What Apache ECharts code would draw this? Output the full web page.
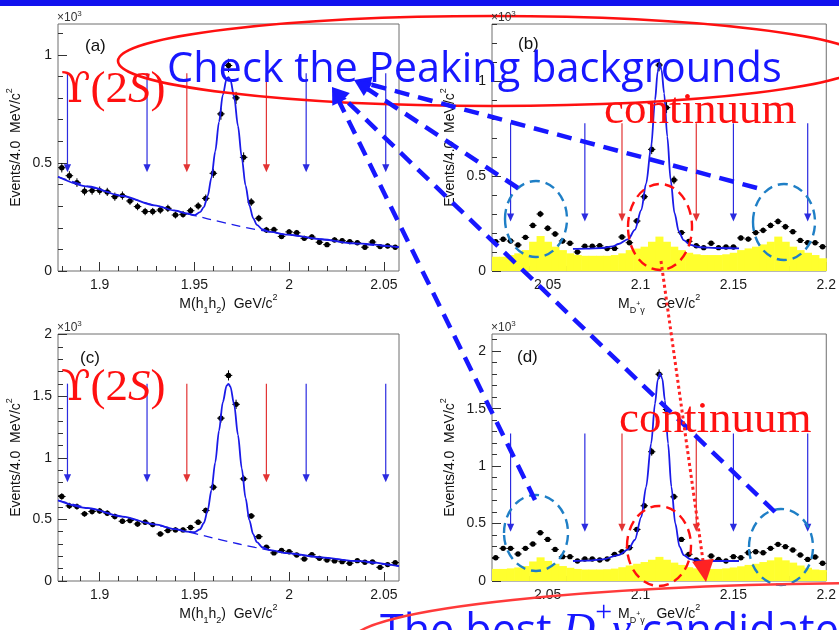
<!DOCTYPE html>
<html>
<head>
<meta charset="utf-8">
<script src="https://cdn.jsdelivr.net/npm/echarts@6/dist/echarts.min.js"></script>
<style>
  html, body { margin: 0; padding: 0; background: #fff; }
  #chart { width: 839px; height: 630px; }
</style>
</head>
<body>
<div id="chart"></div>
<script>
// ---- bin centres (4 MeV bins) ----
const massAC = [1.880,1.884,1.888,1.892,1.896,1.900,1.904,1.908,1.912,1.916,1.920,1.924,1.928,1.932,1.936,1.940,1.944,1.948,1.952,1.956,1.960,1.964,1.968,1.972,1.976,1.980,1.984,1.988,1.992,1.996,2.000,2.004,2.008,2.012,2.016,2.020,2.024,2.028,2.032,2.036,2.040,2.044,2.048,2.052,2.056];
const massBD = [2.022,2.026,2.030,2.034,2.038,2.042,2.046,2.050,2.054,2.058,2.062,2.066,2.070,2.074,2.078,2.082,2.086,2.090,2.094,2.098,2.102,2.106,2.110,2.114,2.118,2.122,2.126,2.130,2.134,2.138,2.142,2.146,2.150,2.154,2.158,2.162,2.166,2.170,2.174,2.178,2.182,2.186,2.190,2.194,2.198];

// ---- events per bin and their errors ----
const eventsA = [478,441,409,369,372,372,366,344,349,324,298,275,275,282,290,259,262,279,301,336,452,727,951,801,526,319,244,190,191,160,181,177,151,157,133,122,144,140,136,131,110,134,113,116,110];
const errA    = [22,21,20,19,19,19,19,19,19,18,17,17,17,17,17,16,16,17,17,18,21,27,31,28,23,18,16,14,14,13,13,13,12,13,12,11,12,12,12,11,10,12,11,11,10];
const eventsB = [154,167,158,137,177,240,300,225,195,158,146,100,130,130,133,118,119,179,149,263,391,640,1084,860,479,202,156,133,123,146,123,126,126,174,168,202,214,240,261,233,207,161,149,149,128];
const errB    = [12,13,13,12,13,15,17,15,14,13,12,10,11,11,12,11,11,13,12,16,20,25,33,29,22,14,12,12,11,12,11,11,11,13,13,14,15,15,16,15,14,13,12,12,11];
const eventsC = [686,610,604,545,564,569,550,523,485,491,463,477,458,382,409,415,415,434,477,572,762,1322,1669,1434,829,528,360,274,228,247,238,211,179,214,184,171,163,157,144,165,152,154,111,133,149];
const errC    = [26,25,25,23,24,24,23,23,22,22,22,22,21,20,20,20,20,21,22,24,28,36,41,38,29,23,19,17,15,16,15,15,13,15,14,13,13,13,12,13,12,12,11,12,12];
const eventsD = [203,284,284,235,284,322,420,362,275,212,212,174,191,191,183,191,232,255,290,449,655,1125,1800,1493,733,362,232,183,154,217,188,174,212,203,246,255,246,284,319,299,270,226,188,209,154];
const errD    = [14,17,17,15,17,18,20,19,17,15,15,13,14,14,14,14,15,16,17,21,26,34,42,39,27,19,15,14,12,15,14,13,15,14,16,16,16,17,18,17,16,15,14,14,12];

// ---- continuum (filled histogram) ----
const contB = [75,75,84,93,110,154,184,154,128,110,93,84,80,80,80,80,84,93,110,118,128,154,181,154,128,110,96,88,84,84,84,88,96,110,119,128,140,154,181,154,128,110,96,84,67];
const contD = [105,105,110,118,130,170,206,175,150,130,115,105,100,100,100,102,108,120,135,150,165,185,210,185,160,140,120,110,105,105,105,110,118,128,140,150,165,180,206,180,160,135,115,100,95];

// ---- fitted curves [mass, events] ----
const fitA = [[1.878,436],[1.894,391],[1.912,347],[1.929,304],[1.940,279],[1.946,266],[1.950,258],[1.953,272],[1.955,296],[1.957,347],[1.959,432],[1.961,553],[1.963,690],[1.965,815],[1.967,889],[1.968,897],[1.969,885],[1.971,804],[1.973,671],[1.975,525],[1.977,396],[1.979,304],[1.981,245],[1.983,213],[1.986,192],[1.990,181],[1.999,168],[2.017,147],[2.034,128],[2.058,110]];
const bgA  = [[1.878,436],[1.894,391],[1.912,347],[1.929,304],[1.950,257],[1.964,227],[1.982,193],[1.999,168],[2.017,147],[2.034,128],[2.058,110]];
const fitC = [[1.878,655],[1.894,592],[1.912,523],[1.929,459],[1.940,421],[1.946,401],[1.950,396],[1.953,420],[1.955,471],[1.957,571],[1.959,737],[1.961,963],[1.963,1221],[1.965,1451],[1.967,1585],[1.968,1600],[1.969,1578],[1.971,1430],[1.973,1186],[1.975,915],[1.977,674],[1.979,494],[1.981,380],[1.983,315],[1.986,272],[1.990,251],[1.999,226],[2.017,192],[2.034,163],[2.058,121]];
const bgC  = [[1.878,655],[1.894,592],[1.912,523],[1.929,459],[1.950,386],[1.964,334],[1.982,273],[1.999,226],[2.017,192],[2.034,163],[2.058,121]];
const fitB = [[2.0636,116],[2.0706,118],[2.0794,121],[2.0850,130],[2.0881,142],[2.0934,168],[2.0969,216],[2.1004,321],[2.1030,461],[2.1057,654],[2.1078,900],[2.1092,1049],[2.1102,1093],[2.1113,1058],[2.1127,935],[2.1144,707],[2.1162,479],[2.1183,304],[2.1206,207],[2.1232,163],[2.1267,137],[2.1320,125],[2.1407,121],[2.1530,119]];
const fitD = [[2.0636,174],[2.0706,177],[2.0794,188],[2.0881,226],[2.0934,275],[2.0969,357],[2.1004,559],[2.1030,820],[2.1057,1197],[2.1078,1545],[2.1092,1748],[2.1104,1806],[2.1117,1762],[2.1131,1574],[2.1148,1197],[2.1166,820],[2.1187,501],[2.1210,299],[2.1232,226],[2.1267,191],[2.1320,177],[2.1407,174],[2.1530,174]];

// ---- signal-window / sideband markers ----
const windowsAC = [1.883,1.925,1.946,1.988,2.009,2.051];
const windowsBD = [2.030,2.070,2.090,2.130,2.150,2.190];
const windowKind = [0,0,1,1,0,0];           // 0 = sideband, 1 = signal window
const markerA = [915,457], markerB = [777,260], markerC = [1602,802], markerD = [1284,429];

// ---- tick labels ----
const xTicksAC = [1.9,1.95,2,2.05];
const xTicksBD = [2.05,2.1,2.15,2.2];
const yTicksAB = [0,500,1000];
const yTicksCD = [0,500,1000,1500,2000];

const HALF_BIN = 0.002;
const AX_FONT = '"Liberation Sans", Arial, sans-serif';
const FIT_BLUE = '#1a1ae8';
const MARK_BLUE = '#2b2be0', MARK_RED = '#e23434';

function steps(a, b, s) {
  const out = [];
  for (let v = a; v <= b + s / 1e3; v += s) out.push(Math.round(v * 1e4) / 1e4);
  return out;
}

const richName = {
  sup: { fontSize: 9, verticalAlign: 'top', lineHeight: 22, fontFamily: AX_FONT, color: '#111' },
  sub: { fontSize: 9, verticalAlign: 'bottom', lineHeight: 22, fontFamily: AX_FONT, color: '#111' },
  sm:  { fontSize: 7, verticalAlign: 'middle', lineHeight: 22, fontFamily: AX_FONT, color: '#111' }
};

const panels = [
  { rect: { left: 58, top: 24, width: 341, height: 247 }, mass: massAC, ev: eventsA, err: errA, fit: fitA, bg: bgA, cont: null,
    xr: [1.878, 2.058], yMax: 1143, xMajor: xTicksAC, xMinor: steps(1.88, 2.05, 0.01), yMajor: yTicksAB, yMinor: steps(0, 1100, 100),
    win: windowsAC, mk: markerA, xName: 'M(h{sub|1}h{sub|2})  GeV/c{sup|2}' },
  { rect: { left: 492, top: 24, width: 342, height: 247 }, mass: massBD, ev: eventsB, err: errB, fit: fitB, bg: null, cont: contB,
    xr: [2.02, 2.20], yMax: 1300, xMajor: xTicksBD, xMinor: steps(2.03, 2.2, 0.01), yMajor: yTicksAB, yMinor: steps(0, 1300, 100),
    win: windowsBD, mk: markerB, xName: 'M{sub|D}{sm|+}{sub|γ}   GeV/c{sup|2}' },
  { rect: { left: 58, top: 334, width: 341, height: 247 }, mass: massAC, ev: eventsC, err: errC, fit: fitC, bg: bgC, cont: null,
    xr: [1.878, 2.058], yMax: 2005, xMajor: xTicksAC, xMinor: steps(1.88, 2.05, 0.01), yMajor: yTicksCD, yMinor: steps(0, 2000, 100),
    win: windowsAC, mk: markerC, xName: 'M(h{sub|1}h{sub|2})  GeV/c{sup|2}' },
  { rect: { left: 492, top: 334, width: 342, height: 247 }, mass: massBD, ev: eventsD, err: errD, fit: fitD, bg: null, cont: contD,
    xr: [2.02, 2.20], yMax: 2150, xMajor: xTicksBD, xMinor: steps(2.03, 2.2, 0.01), yMajor: yTicksCD, yMinor: steps(0, 2100, 100),
    win: windowsBD, mk: markerD, xName: 'M{sub|D}{sm|+}{sub|γ}   GeV/c{sup|2}' }
];

const grid = [], xAxis = [], yAxis = [], series = [];

panels.forEach((p, g) => {
  grid.push(Object.assign({ show: true, borderColor: '#6e6e6e', borderWidth: 1, backgroundColor: 'transparent' }, p.rect));
  const xi = xAxis.length, yi = yAxis.length;
  xAxis.push({
    type: 'value', gridIndex: g, min: p.xr[0], max: p.xr[1], position: 'bottom',
    axisLine: { show: false }, splitLine: { show: false },
    axisTick: { inside: true, length: 9, customValues: p.xMajor, lineStyle: { color: '#333' } },
    axisLabel: { customValues: p.xMajor, formatter: v => String(v), fontFamily: AX_FONT, fontSize: 14, color: '#1a1a1a', margin: 7 },
    name: p.xName, nameLocation: 'middle', nameGap: 22,
    nameTextStyle: { fontFamily: AX_FONT, fontSize: 14, color: '#111', lineHeight: 22, rich: richName }
  });
  xAxis.push({
    type: 'value', gridIndex: g, min: p.xr[0], max: p.xr[1], position: 'bottom',
    axisLine: { show: false }, splitLine: { show: false }, axisLabel: { show: false },
    axisTick: { inside: true, length: 5, customValues: p.xMinor, lineStyle: { color: '#333' } }
  });
  yAxis.push({
    type: 'value', gridIndex: g, min: 0, max: p.yMax, position: 'left',
    axisLine: { show: false }, splitLine: { show: false },
    axisTick: { inside: true, length: 9, customValues: p.yMajor, lineStyle: { color: '#333' } },
    axisLabel: { customValues: p.yMajor, formatter: v => String(v / 1000), fontFamily: AX_FONT, fontSize: 14, color: '#1a1a1a', margin: 6 },
    name: 'Events/4.0  MeV/c{sup|2}', nameLocation: 'middle', nameGap: 31,
    nameTextStyle: { fontFamily: AX_FONT, fontSize: 14, color: '#111', lineHeight: 22, rich: richName }
  });
  yAxis.push({
    type: 'value', gridIndex: g, min: 0, max: p.yMax, position: 'left',
    axisLine: { show: false }, splitLine: { show: false }, axisLabel: { show: false },
    axisTick: { inside: true, length: 5, customValues: p.yMinor, lineStyle: { color: '#333' } }
  });

  if (p.cont) {
    series.push({
      type: 'custom', xAxisIndex: xi, yAxisIndex: yi, z: 1, silent: true,
      data: p.mass.map((m, i) => [m, p.cont[i]]),
      encode: { x: 0, y: 1 },
      renderItem: (params, api) => {
        const x = api.value(0), h = api.value(1);
        const a = api.coord([x - HALF_BIN, h]), b = api.coord([x + HALF_BIN, 0]);
        return { type: 'rect', shape: { x: a[0], y: a[1], width: b[0] - a[0] + 0.6, height: b[1] - a[1] },
                 style: { fill: '#ffff2e' } };
      }
    });
  }

  series.push({
    type: 'custom', xAxisIndex: xi, yAxisIndex: yi, z: 3, silent: true,
    data: p.mass.map((m, i) => [m, p.ev[i], p.err[i]]),
    encode: { x: 0, y: 1 },
    renderItem: (params, api) => {
      const x = api.value(0), y = api.value(1), e = api.value(2);
      const c = api.coord([x, y]);
      const l = api.coord([x - HALF_BIN, y]), r = api.coord([x + HALF_BIN, y]);
      const t = api.coord([x, y + e]), b = api.coord([x, y - e]);
      return { type: 'group', children: [
        { type: 'line', shape: { x1: l[0], y1: c[1], x2: r[0], y2: c[1] }, style: { stroke: '#000', lineWidth: 1 } },
        { type: 'line', shape: { x1: c[0], y1: t[1], x2: c[0], y2: b[1] }, style: { stroke: '#000', lineWidth: 1 } },
        { type: 'circle', shape: { cx: c[0], cy: c[1], r: 2.7 }, style: { fill: '#000' } }
      ] };
    }
  });

  if (p.bg) {
    series.push({
      type: 'line', xAxisIndex: xi, yAxisIndex: yi, z: 4, data: p.bg, showSymbol: false, smooth: 0.4,
      lineStyle: { color: FIT_BLUE, width: 1.3, type: [9, 6] }, silent: true
    });
  }
  series.push({
    type: 'line', xAxisIndex: xi, yAxisIndex: yi, z: 5, data: p.fit, showSymbol: false, smooth: 0.3, smoothMonotone: 'x',
    lineStyle: { color: FIT_BLUE, width: 1.8 }, silent: true
  });

  series.push({
    type: 'custom', xAxisIndex: xi, yAxisIndex: yi, z: 6, silent: true,
    data: p.win.map((w, i) => [w, p.mk[0], p.mk[1], windowKind[i]]),
    encode: { x: 0, y: 1 },
    renderItem: (params, api) => {
      const x = api.value(0), col = api.value(3) ? MARK_RED : MARK_BLUE;
      const a = api.coord([x, api.value(1)]), b = api.coord([x, api.value(2)]);
      return { type: 'group', children: [
        { type: 'line', shape: { x1: a[0], y1: a[1], x2: b[0], y2: b[1] - 6 }, style: { stroke: col, lineWidth: 1.2 } },
        { type: 'polygon', shape: { points: [[b[0] - 3.6, b[1] - 8], [b[0] + 3.6, b[1] - 8], [b[0], b[1]]] }, style: { fill: col } }
      ] };
    }
  });
});

// ---- slide annotations drawn over the plots ----
const ANN_BLUE = '#1717ff', ANN_RED = '#ff1010', RING_BLUE = '#1f7fc6';

function arrowLine(x1, y1, x2, y2, color, width, dash, headLen, headHalf) {
  const dx = x2 - x1, dy = y2 - y1, len = Math.hypot(dx, dy);
  const ux = dx / len, uy = dy / len;
  const bx = x2 - ux * headLen, by = y2 - uy * headLen;
  return [
    { type: 'line', shape: { x1, y1, x2: bx, y2: by }, style: { stroke: color, lineWidth: width, lineDash: dash }, z: 100 },
    { type: 'polygon', shape: { points: [[x2, y2], [bx - uy * headHalf, by + ux * headHalf], [bx + uy * headHalf, by - ux * headHalf]] },
      style: { fill: color }, z: 101 }
  ];
}
function ring(cx, cy, rx, ry, color) {
  return { type: 'ellipse', shape: { cx, cy, rx, ry }, style: { fill: null, stroke: color, lineWidth: 2.4, lineDash: [10, 6] }, z: 99 };
}
function label(text, x, y, font, fill, rich, z) {
  return { type: 'text', x, y, z: z || 102, style: { text, font, fill, rich, align: 'left', verticalAlign: 'top' } };
}

const tagFont = '17px "Liberation Sans", Arial, sans-serif';
const expRich = { s: { fontSize: 8, verticalAlign: 'top', lineHeight: 16, fill: '#333', fontFamily: AX_FONT } };
const serifRed = '45px "Liberation Serif", "Times New Roman", serif';
const upsRich = {
  u: { font: '43px "DejaVu Serif", serif', fill: ANN_RED },
  t: { font: '45px "Liberation Serif", serif', fill: ANN_RED },
  i: { font: 'italic 45px "Liberation Serif", serif', fill: ANN_RED }
};

const graphic = [
  { type: 'rect', shape: { x: 0, y: 0, width: 839, height: 6 }, style: { fill: '#1111ee' }, z: 100 },
  // exponent and panel tags
  label('×10{s|3}', 57, 10, '12px "Liberation Sans", sans-serif', '#333', expRich),
  label('×10{s|3}', 491, 10, '12px "Liberation Sans", sans-serif', '#333', expRich),
  label('×10{s|3}', 57, 320, '12px "Liberation Sans", sans-serif', '#333', expRich),
  label('×10{s|3}', 491, 320, '12px "Liberation Sans", sans-serif', '#333', expRich),
  label('(a)', 85, 38, tagFont, '#111'),
  label('(b)', 518, 36, tagFont, '#111'),
  label('(c)', 80, 350, tagFont, '#111'),
  label('(d)', 517, 349, tagFont, '#111'),
  // rings round the peaking structures
  ring(536, 219, 31, 38, RING_BLUE), ring(784, 222, 31, 38, RING_BLUE),
  ring(536, 533, 32, 38, RING_BLUE), ring(781, 547, 32, 38, RING_BLUE),
  ring(660, 227, 32, 43, ANN_RED), ring(659, 546, 32, 40, ANN_RED),
  // headline and its ellipse
  { type: 'ellipse', shape: { cx: 492, cy: 61, rx: 374, ry: 45 }, style: { fill: null, stroke: ANN_RED, lineWidth: 2.6 }, z: 100 },
  label('Check the Peaking backgrounds', 167, 49, '41.5px "Open Sans", "Noto Sans", sans-serif', ANN_BLUE),
  label('{u|ϒ}{t|(2}{i|S}{t|)}', 61, 68, '45px "Liberation Serif", serif', ANN_RED, upsRich),
  label('{u|ϒ}{t|(2}{i|S}{t|)}', 61, 366, '45px "Liberation Serif", serif', ANN_RED, upsRich),
  label('continuum', 604, 89, serifRed, ANN_RED),
  label('continuum', 619, 398, serifRed, ANN_RED),
  // bottom caption and its ellipse
  { type: 'ellipse', shape: { cx: 900, cy: 641, rx: 548, ry: 58 }, style: { fill: null, stroke: '#ff3a3a', lineWidth: 2.6 }, z: 100 },
  {
    type: 'text', x: 380, y: 598, z: -1,
    style: {
      text: '{n|The best }{d|D}{p|+}{d|γ}{n| candidate}',
      fill: ANN_BLUE, align: 'left', verticalAlign: 'top',
      rich: {
        n: { font: '43px "Open Sans", "Noto Sans", sans-serif', fill: ANN_BLUE, lineHeight: 56, verticalAlign: 'bottom' },
        d: { font: 'italic 45px "Liberation Serif", serif', fill: ANN_BLUE, lineHeight: 56, verticalAlign: 'bottom' },
        p: { font: '30px "Liberation Serif", serif', fill: ANN_BLUE, lineHeight: 56, verticalAlign: 'top' }
      }
    }
  }
];
graphic.push(...arrowLine(535, 500, 332, 87, ANN_BLUE, 4.5, [15, 9], 17, 8));
graphic.push(...arrowLine(775, 512, 332, 87, ANN_BLUE, 4.5, [15, 9], 17, 8));
graphic.push(...arrowLine(757, 188, 354, 80, ANN_BLUE, 4.5, [15, 9], 17, 8));
graphic.push(...arrowLine(518, 188, 354, 80, ANN_BLUE, 4.5, [15, 9], 17, 8));
graphic.push(...arrowLine(661, 261, 706, 582, '#ff2222', 3, [3, 3], 22, 11));

const chart = echarts.init(document.getElementById('chart'), null, { renderer: 'canvas' });
chart.setOption({
  animation: false,
  backgroundColor: '#ffffff',
  grid, xAxis, yAxis, series, graphic
});
</script>
</body>
</html>
